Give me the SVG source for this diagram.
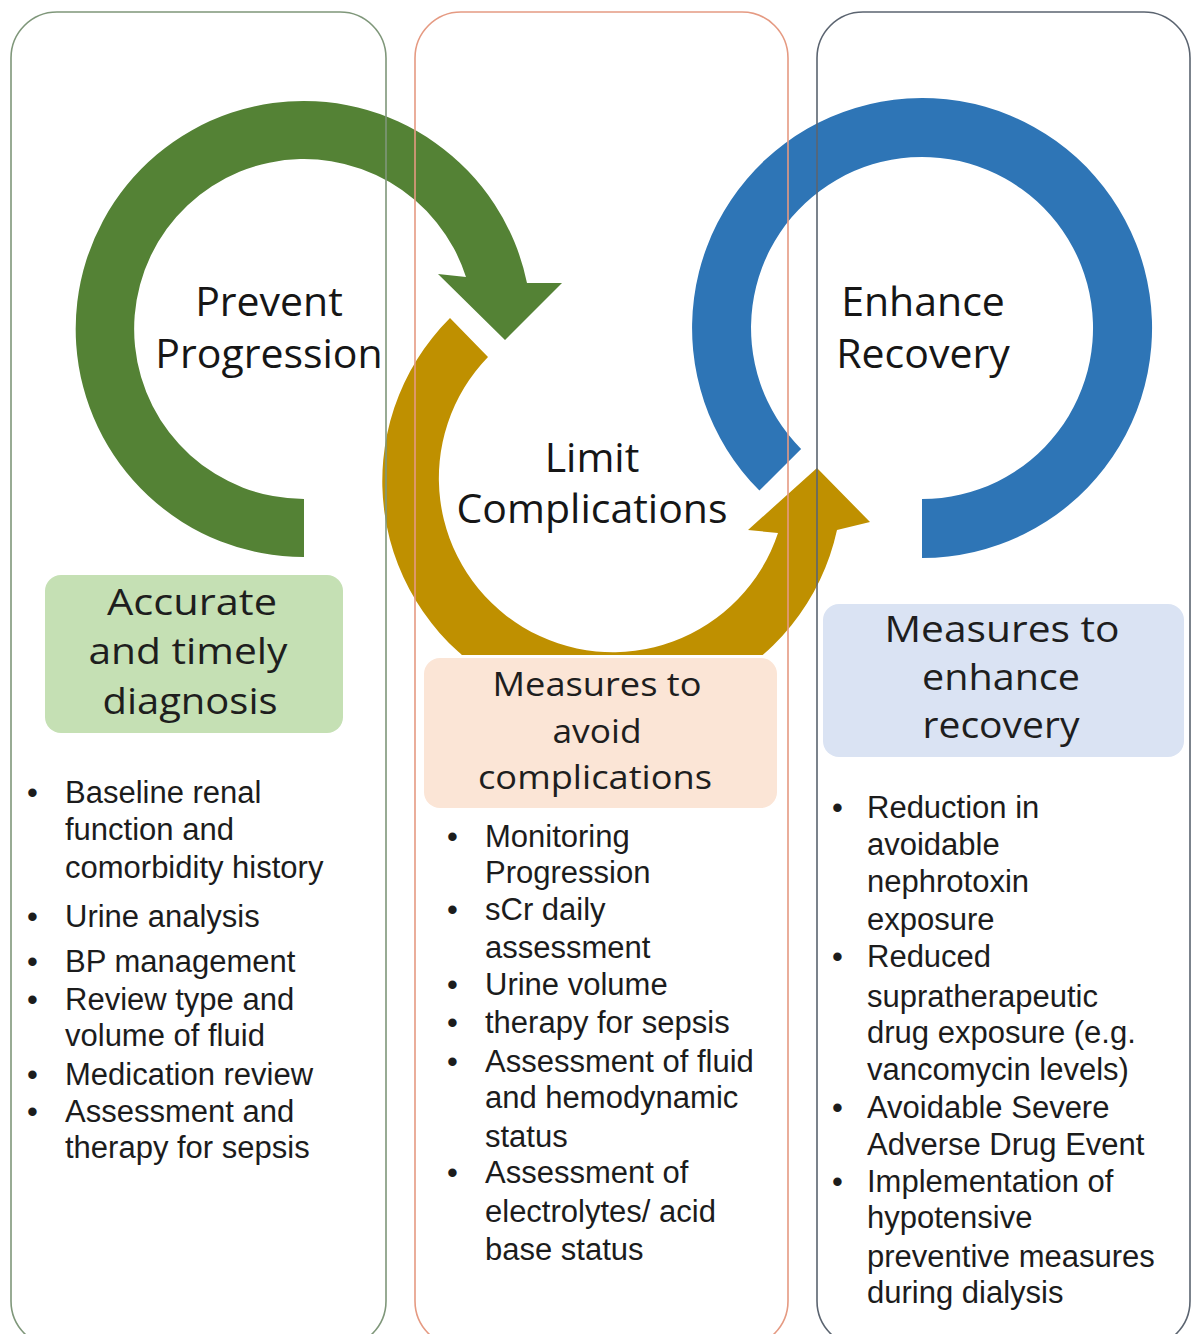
<svg xmlns="http://www.w3.org/2000/svg" width="1193" height="1334" viewBox="0 0 1193 1334">
  <style>
    .panel { fill: none; stroke-width: 1.6; }
    .label { font-family: "Open Sans", "Liberation Sans", sans-serif; fill: #161616; text-anchor: middle; }
    .head { font-family: "Open Sans", "Liberation Sans", sans-serif; fill: #1e1e1e; text-anchor: middle; font-size: 36px; font-weight: 500; }
    .head-s { font-size: 33px; }
    .list { font-family: "Liberation Sans", Arial, sans-serif; font-size: 31px; fill: #1c1c1c; }
    .dot { font-family: "Liberation Sans", Arial, sans-serif; font-size: 31px; fill: #1c1c1c; }
  </style>
  <defs>
    <clipPath id="aboveBox">
      <rect x="0" y="0" width="1193" height="655"/>
    </clipPath>
  </defs>

  <rect x="0" y="0" width="1193" height="1334" fill="#ffffff"/>

  <!-- Cycle arrows linking the three phases -->
  <g id="connectors">
    <path id="arrow-progression" fill="#548235"
          d="M 304 557 A 228 228 0 1 1 527 283 L 562 283 L 505 340 L 438 274 L 466 277 A 170 170 0 1 0 304 499 Z"/>
    <path id="arrow-complications" fill="#BF9000" clip-path="url(#aboveBox)"
          d="M 450 318 A 230 230 0 1 0 837 530 L 870 522 L 817 468 L 748 530 L 778 533 A 174 174 0 1 1 488 357 Z"/>
    <path id="ring-recovery" fill="#2E75B6"
          d="M 759.4 490.6 A 230 230 0 1 1 922 558 L 922 499 A 171 171 0 1 0 801.1 448.9 Z"/>
  </g>

  <!-- Phase 1 -->
  <g id="phase-prevent">
    <rect class="panel" x="11" y="12" width="375" height="1335" rx="46" ry="46" stroke="#7f977a"/>
    <text class="label" font-size="41" x="269" y="316">Prevent</text>
    <text class="label" font-size="41" x="269" y="368">Progression</text>
    <g id="box-diagnosis">
      <rect x="45" y="575" width="298" height="158" rx="16" fill="#C5E0B4"/>
      <text class="head" x="192" y="615" textLength="170" lengthAdjust="spacingAndGlyphs">Accurate</text>
      <text class="head" x="188" y="664" textLength="199" lengthAdjust="spacingAndGlyphs">and timely</text>
      <text class="head" x="190" y="714" textLength="175" lengthAdjust="spacingAndGlyphs">diagnosis</text>
    </g>
    <g id="list-diagnosis">
      <text class="dot" x="27" y="803">•</text>
      <text class="list" x="65" y="803">Baseline renal</text>
      <text class="list" x="65" y="840">function and</text>
      <text class="list" x="65" y="878">comorbidity history</text>
      <text class="dot" x="27" y="927">•</text>
      <text class="list" x="65" y="927">Urine analysis</text>
      <text class="dot" x="27" y="972">•</text>
      <text class="list" x="65" y="972">BP management</text>
      <text class="dot" x="27" y="1010">•</text>
      <text class="list" x="65" y="1010">Review type and</text>
      <text class="list" x="65" y="1046">volume of fluid</text>
      <text class="dot" x="27" y="1085">•</text>
      <text class="list" x="65" y="1085">Medication review</text>
      <text class="dot" x="27" y="1122">•</text>
      <text class="list" x="65" y="1122">Assessment and</text>
      <text class="list" x="65" y="1158">therapy for sepsis</text>
    </g>
  </g>

  <!-- Phase 2 -->
  <g id="phase-limit">
    <rect class="panel" x="415" y="12" width="373" height="1335" rx="46" ry="46" stroke="#e59a82"/>
    <text class="label" font-size="41" x="592" y="472">Limit</text>
    <text class="label" font-size="41" x="592" y="523">Complications</text>
    <g id="box-complications">
      <rect x="424" y="658" width="353" height="150" rx="16" fill="#FBE5D6"/>
      <text class="head head-s" x="597" y="696" textLength="209" lengthAdjust="spacingAndGlyphs">Measures to</text>
      <text class="head head-s" x="597" y="743" textLength="89" lengthAdjust="spacingAndGlyphs">avoid</text>
      <text class="head head-s" x="595" y="789" textLength="234" lengthAdjust="spacingAndGlyphs">complications</text>
    </g>
    <g id="list-complications">
      <text class="dot" x="447" y="847">•</text>
      <text class="list" x="485" y="847">Monitoring</text>
      <text class="list" x="485" y="883">Progression</text>
      <text class="dot" x="447" y="920">•</text>
      <text class="list" x="485" y="920">sCr daily</text>
      <text class="list" x="485" y="958">assessment</text>
      <text class="dot" x="447" y="995">•</text>
      <text class="list" x="485" y="995">Urine volume</text>
      <text class="dot" x="447" y="1033">•</text>
      <text class="list" x="485" y="1033">therapy for sepsis</text>
      <text class="dot" x="447" y="1072">•</text>
      <text class="list" x="485" y="1072">Assessment of fluid</text>
      <text class="list" x="485" y="1108">and hemodynamic</text>
      <text class="list" x="485" y="1147">status</text>
      <text class="dot" x="447" y="1183">•</text>
      <text class="list" x="485" y="1183">Assessment of</text>
      <text class="list" x="485" y="1222">electrolytes/ acid</text>
      <text class="list" x="485" y="1260">base status</text>
    </g>
  </g>

  <!-- Phase 3 -->
  <g id="phase-recovery">
    <rect class="panel" x="817" y="12" width="373" height="1335" rx="46" ry="46" stroke="#5b6470"/>
    <text class="label" font-size="41" x="923" y="316">Enhance</text>
    <text class="label" font-size="41" x="923" y="368">Recovery</text>
    <g id="box-recovery">
      <rect x="823" y="604" width="361" height="153" rx="16" fill="#DAE3F3"/>
      <text class="head" x="1002" y="642" textLength="235" lengthAdjust="spacingAndGlyphs">Measures to</text>
      <text class="head" x="1001" y="690" textLength="158" lengthAdjust="spacingAndGlyphs">enhance</text>
      <text class="head" x="1001" y="738" textLength="157" lengthAdjust="spacingAndGlyphs">recovery</text>
    </g>
    <g id="list-recovery">
      <text class="dot" x="832" y="818">•</text>
      <text class="list" x="867" y="818">Reduction in</text>
      <text class="list" x="867" y="855">avoidable</text>
      <text class="list" x="867" y="892">nephrotoxin</text>
      <text class="list" x="867" y="930">exposure</text>
      <text class="dot" x="832" y="967">•</text>
      <text class="list" x="867" y="967">Reduced</text>
      <text class="list" x="867" y="1007">supratherapeutic</text>
      <text class="list" x="867" y="1043">drug exposure (e.g.</text>
      <text class="list" x="867" y="1080">vancomycin levels)</text>
      <text class="dot" x="832" y="1118">•</text>
      <text class="list" x="867" y="1118">Avoidable Severe</text>
      <text class="list" x="867" y="1155">Adverse Drug Event</text>
      <text class="dot" x="832" y="1192">•</text>
      <text class="list" x="867" y="1192">Implementation of</text>
      <text class="list" x="867" y="1228">hypotensive</text>
      <text class="list" x="867" y="1267">preventive measures</text>
      <text class="list" x="867" y="1303">during dialysis</text>
    </g>
  </g>
</svg>
